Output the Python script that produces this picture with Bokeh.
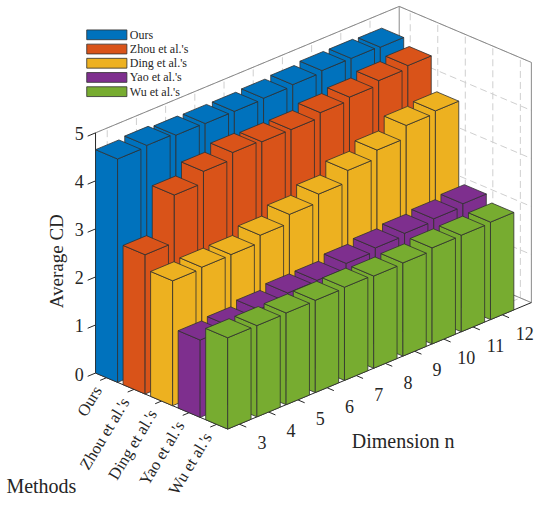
import math
from bokeh.plotting import figure
from bokeh.models import Range1d, ColumnDataSource
from bokeh.core.properties import value
from bokeh.embed import file_html
from bokeh.resources import INLINE

# ---------------- data ----------------
methods = ["Ours", "Zhou et al.'s", "Ding et al.'s", "Yao et al.'s", "Wu et al.'s"]
dims = [3, 4, 5, 6, 7, 8, 9, 10, 11, 12]
ours = [4.65, 4.68, 4.64, 4.63, 4.63, 4.65, 4.68, 4.72, 4.72, 4.70]
zhou = [2.90, 3.89, 4.13, 4.27, 4.24, 4.24, 4.34, 4.41, 4.50, 4.56]
ding = [2.60, 2.63, 2.64, 2.79, 2.97, 3.14, 3.38, 3.55, 3.81, 3.86]
yao = [1.61, 1.65, 1.74, 1.83, 1.84, 1.94, 2.01, 2.06, 2.11, 2.17]
wu = [1.90, 1.90, 1.91, 1.92, 1.94, 1.92, 1.94, 2.00, 2.01, 2.03]
z_ticks = [0, 1, 2, 3, 4, 5]
series = [ours, zhou, ding, yao, wu]
colors = ["#0072BD", "#D95319", "#EDB120", "#7E2F8E", "#77AC30"]

# ---------------- 3-D projection (orthographic view) ----------------
N_LO, N_HI = 0.6, 11.0      # dimension axis limits (bar index units)
M_LO, M_HI = 0.6, 5.4       # methods axis limits
Z_LO, Z_HI = 0, 5
OX, OY = 95.0, 377.0        # screen point of (N_LO, M_LO, 0)
AXV = (29.8, -12.4)         # screen step per dimension unit
BXV = (28.1, 11.9)          # screen step per method unit
ZS = 49.0                   # screen pixels per CD unit
HALF = 0.4                  # half bar width

def proj(n, m, z):
    x = OX + (n - N_LO) * AXV[0] + (m - M_LO) * BXV[0]
    y = OY + (n - N_LO) * AXV[1] + (m - M_LO) * BXV[1] - z * ZS
    return x, y

def poly(pts):
    xs, ys = zip(*[proj(*q) for q in pts])
    return list(xs), list(ys)

def seg(a, b):
    return poly([a, b])

FONT = value("Liberation Serif")
TXT = "#262626"

p = figure(width=534, height=499, x_range=Range1d(-2, 543), y_range=Range1d(506, -3),
           output_backend="svg", toolbar_location=None, min_border=0,
           x_axis_location=None, y_axis_location=None)
p.grid.visible = False
p.outline_line_color = None
p.background_fill_color = "white"
p.border_fill_color = "white"

# ---------------- walls and floor ----------------
walls = [
    [(N_LO, M_LO, Z_LO), (N_HI, M_LO, Z_LO), (N_HI, M_LO, Z_HI), (N_LO, M_LO, Z_HI)],
    [(N_HI, M_LO, Z_LO), (N_HI, M_HI, Z_LO), (N_HI, M_HI, Z_HI), (N_HI, M_LO, Z_HI)],
    [(N_LO, M_LO, Z_LO), (N_HI, M_LO, Z_LO), (N_HI, M_HI, Z_LO), (N_LO, M_HI, Z_LO)],
]
wx, wy = zip(*[poly(w) for w in walls])
p.patches(list(wx), list(wy), fill_color="white", line_color=None)

# ---------------- grid lines ----------------
gx, gy = [], []
n_pos = list(range(1, len(dims) + 1))
m_pos = list(range(1, len(methods) + 1))
for k in n_pos:
    a, b = seg((k, M_LO, Z_LO), (k, M_LO, Z_HI)); gx.append(a); gy.append(b)
    a, b = seg((k, M_LO, Z_LO), (k, M_HI, Z_LO)); gx.append(a); gy.append(b)
for j in m_pos:
    a, b = seg((N_HI, j, Z_LO), (N_HI, j, Z_HI)); gx.append(a); gy.append(b)
    a, b = seg((N_LO, j, Z_LO), (N_HI, j, Z_LO)); gx.append(a); gy.append(b)
for z in z_ticks:
    a, b = seg((N_LO, M_LO, z), (N_HI, M_LO, z)); gx.append(a); gy.append(b)
    a, b = seg((N_HI, M_LO, z), (N_HI, M_HI, z)); gx.append(a); gy.append(b)
p.multi_line(gx, gy, line_color="#cfcfcf", line_width=1, line_dash="7 4")

# ---------------- box edges ----------------
bx, by = [], []
for a3, b3 in [((N_LO, M_LO, Z_HI), (N_HI, M_LO, Z_HI)),
               ((N_HI, M_LO, Z_LO), (N_HI, M_LO, Z_HI)),
               ((N_HI, M_LO, Z_HI), (N_HI, M_HI, Z_HI)),
               ((N_HI, M_HI, Z_LO), (N_HI, M_HI, Z_HI)),
               ((N_LO, M_LO, Z_LO), (N_HI, M_LO, Z_LO)),
               ((N_HI, M_LO, Z_LO), (N_HI, M_HI, Z_LO))]:
    a, b = seg(a3, b3); bx.append(a); by.append(b)
p.multi_line(bx, by, line_color="#8a8a8a", line_width=1)

# axis lines and ticks
ax_x, ax_y = [], []
for a3, b3 in [((N_LO, M_LO, Z_LO), (N_LO, M_LO, Z_HI)),
               ((N_LO, M_LO, Z_LO), (N_LO, M_HI, Z_LO)),
               ((N_LO, M_HI, Z_LO), (N_HI, M_HI, Z_LO))]:
    a, b = seg(a3, b3); ax_x.append(a); ax_y.append(b)
for z in z_ticks:
    a, b = seg((N_LO, M_LO, z), (N_LO - 0.27, M_LO, z)); ax_x.append(a); ax_y.append(b)
for j in m_pos:
    a, b = seg((N_LO, j, Z_LO), (N_LO - 0.22, j, Z_LO)); ax_x.append(a); ax_y.append(b)
for k in n_pos:
    a, b = seg((k, M_HI, Z_LO), (k, M_HI + 0.25, Z_LO)); ax_x.append(a); ax_y.append(b)
p.multi_line(ax_x, ax_y, line_color="#262626", line_width=1)

# ---------------- bars (painter's order: back method first, far dimension first) ----------------
for j, (vals, col) in enumerate(zip(series, colors)):
    m = j + 1
    xs, ys = [], []
    for idx in reversed(range(len(dims))):
        k = idx + 1
        v = vals[idx]
        n0, n1, m0, m1 = k - HALF, k + HALF, m - HALF, m + HALF
        faces = [
            [(n0, m0, 0), (n0, m1, 0), (n0, m1, v), (n0, m0, v)],
            [(n0, m1, 0), (n1, m1, 0), (n1, m1, v), (n0, m1, v)],
            [(n0, m0, v), (n0, m1, v), (n1, m1, v), (n1, m0, v)],
        ]
        for f in faces:
            a, b = poly(f); xs.append(a); ys.append(b)
    src = ColumnDataSource(dict(xs=xs, ys=ys))
    p.patches("xs", "ys", source=src, fill_color=col, line_color="#303030", line_width=0.8)

# ---------------- legend (top left) ----------------
LEG_X0, LEG_X1, LEG_Y0, LEG_DY, LEG_H = 86, 127, 32, 14.5, 10
rows = [LEG_Y0 + i * LEG_DY for i in range(len(methods))]
p.quad(left=[LEG_X0] * len(methods), right=[LEG_X1] * len(methods),
       top=[r - LEG_H / 2 for r in rows], bottom=[r + LEG_H / 2 for r in rows],
       fill_color=colors, line_color="#303030", line_width=0.8)
p.text([LEG_X1 + 3] * len(methods), rows, text=methods, text_font=FONT,
       text_font_size="12px", text_align="left", text_baseline="middle", text_color=TXT)

# ---------------- texts ----------------
zx, zy = [], []
for z in z_ticks:
    x, y = proj(N_LO, M_LO, z)
    zx.append(x - 12); zy.append(y + 1)
p.text(zx, zy, text=[str(z) for z in z_ticks], text_font=FONT, text_font_size="18px",
       text_align="right", text_baseline="middle", text_color=TXT)

mx, my = [], []
for j in m_pos:
    x, y = proj(N_LO, j, 0)
    mx.append(x - 9); my.append(y + 10)
p.text(mx, my, text=methods, angle=math.radians(59), text_font=FONT, text_font_size="16.5px",
       text_align="right", text_baseline="middle", text_color=TXT)

dx, dy = [], []
for k in n_pos:
    x, y = proj(k, M_HI, 0)
    dx.append(x + 23); dy.append(y + 19)
p.text(dx, dy, text=[str(d) for d in dims], text_font=FONT, text_font_size="18px",
       text_align="center", text_baseline="middle", text_color=TXT)

lx, ly = proj(N_LO, M_LO, 2.45)
p.text([lx - 40], [ly + 6], text=["Average CD"], angle=math.pi / 2, text_font=FONT,
       text_font_size="19px", text_align="center", text_baseline="middle", text_color=TXT)

fx, fy = proj(5.0, M_HI, 0)
p.text([fx + 48], [fy + 67], text=["Dimension n"], text_font=FONT, text_font_size="20px",
       text_align="center", text_baseline="middle", text_color=TXT)

ox, oy = proj(N_LO, M_HI, 0)
p.text([4], [oy + 58], text=["Methods"], text_font=FONT, text_font_size="20px",
       text_align="left", text_baseline="middle", text_color=TXT)

open("out.html", "w").write(file_html(p, INLINE))
